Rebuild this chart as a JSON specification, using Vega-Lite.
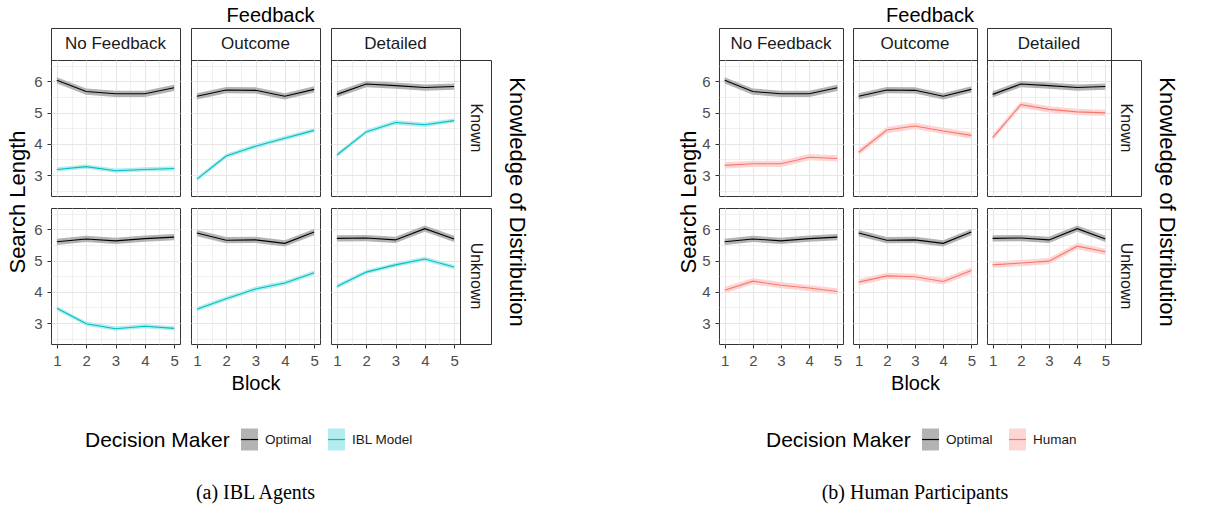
{
"$schema": "https://vega.github.io/schema/vega-lite/v6.json",
"background": "#ffffff",
"padding": {"left": 6, "top": 5, "right": 5, "bottom": 5},
"datasets": {"d": [
{"k":"K","f":"NF","dm":"Optimal","b":1,"m":6.03,"lo":5.93,"hi":6.13},
{"k":"K","f":"NF","dm":"Optimal","b":2,"m":5.67,"lo":5.57,"hi":5.77},
{"k":"K","f":"NF","dm":"Optimal","b":3,"m":5.6,"lo":5.5,"hi":5.7},
{"k":"K","f":"NF","dm":"Optimal","b":4,"m":5.6,"lo":5.5,"hi":5.7},
{"k":"K","f":"NF","dm":"Optimal","b":5,"m":5.79,"lo":5.69,"hi":5.89},
{"k":"K","f":"O","dm":"Optimal","b":1,"m":5.52,"lo":5.42,"hi":5.62},
{"k":"K","f":"O","dm":"Optimal","b":2,"m":5.72,"lo":5.62,"hi":5.82},
{"k":"K","f":"O","dm":"Optimal","b":3,"m":5.71,"lo":5.61,"hi":5.81},
{"k":"K","f":"O","dm":"Optimal","b":4,"m":5.52,"lo":5.42,"hi":5.62},
{"k":"K","f":"O","dm":"Optimal","b":5,"m":5.74,"lo":5.64,"hi":5.84},
{"k":"K","f":"D","dm":"Optimal","b":1,"m":5.58,"lo":5.48,"hi":5.68},
{"k":"K","f":"D","dm":"Optimal","b":2,"m":5.91,"lo":5.81,"hi":6.01},
{"k":"K","f":"D","dm":"Optimal","b":3,"m":5.86,"lo":5.76,"hi":5.96},
{"k":"K","f":"D","dm":"Optimal","b":4,"m":5.8,"lo":5.7,"hi":5.9},
{"k":"K","f":"D","dm":"Optimal","b":5,"m":5.83,"lo":5.73,"hi":5.93},
{"k":"U","f":"NF","dm":"Optimal","b":1,"m":5.6,"lo":5.5,"hi":5.7},
{"k":"U","f":"NF","dm":"Optimal","b":2,"m":5.69,"lo":5.59,"hi":5.79},
{"k":"U","f":"NF","dm":"Optimal","b":3,"m":5.63,"lo":5.53,"hi":5.73},
{"k":"U","f":"NF","dm":"Optimal","b":4,"m":5.7,"lo":5.6,"hi":5.8},
{"k":"U","f":"NF","dm":"Optimal","b":5,"m":5.75,"lo":5.65,"hi":5.85},
{"k":"U","f":"O","dm":"Optimal","b":1,"m":5.88,"lo":5.78,"hi":5.98},
{"k":"U","f":"O","dm":"Optimal","b":2,"m":5.65,"lo":5.55,"hi":5.75},
{"k":"U","f":"O","dm":"Optimal","b":3,"m":5.66,"lo":5.56,"hi":5.76},
{"k":"U","f":"O","dm":"Optimal","b":4,"m":5.55,"lo":5.45,"hi":5.65},
{"k":"U","f":"O","dm":"Optimal","b":5,"m":5.91,"lo":5.81,"hi":6.01},
{"k":"U","f":"D","dm":"Optimal","b":1,"m":5.71,"lo":5.61,"hi":5.81},
{"k":"U","f":"D","dm":"Optimal","b":2,"m":5.72,"lo":5.62,"hi":5.82},
{"k":"U","f":"D","dm":"Optimal","b":3,"m":5.66,"lo":5.56,"hi":5.76},
{"k":"U","f":"D","dm":"Optimal","b":4,"m":6.02,"lo":5.92,"hi":6.12},
{"k":"U","f":"D","dm":"Optimal","b":5,"m":5.69,"lo":5.59,"hi":5.79},
{"k":"K","f":"NF","dm":"IBL Model","b":1,"m":3.18,"lo":3.11,"hi":3.25},
{"k":"K","f":"NF","dm":"IBL Model","b":2,"m":3.27,"lo":3.2,"hi":3.34},
{"k":"K","f":"NF","dm":"IBL Model","b":3,"m":3.14,"lo":3.07,"hi":3.21},
{"k":"K","f":"NF","dm":"IBL Model","b":4,"m":3.18,"lo":3.11,"hi":3.25},
{"k":"K","f":"NF","dm":"IBL Model","b":5,"m":3.21,"lo":3.14,"hi":3.28},
{"k":"K","f":"O","dm":"IBL Model","b":1,"m":2.87,"lo":2.8,"hi":2.94},
{"k":"K","f":"O","dm":"IBL Model","b":2,"m":3.61,"lo":3.54,"hi":3.68},
{"k":"K","f":"O","dm":"IBL Model","b":3,"m":3.92,"lo":3.85,"hi":3.99},
{"k":"K","f":"O","dm":"IBL Model","b":4,"m":4.18,"lo":4.11,"hi":4.25},
{"k":"K","f":"O","dm":"IBL Model","b":5,"m":4.43,"lo":4.36,"hi":4.5},
{"k":"K","f":"D","dm":"IBL Model","b":1,"m":3.64,"lo":3.57,"hi":3.71},
{"k":"K","f":"D","dm":"IBL Model","b":2,"m":4.38,"lo":4.31,"hi":4.45},
{"k":"K","f":"D","dm":"IBL Model","b":3,"m":4.68,"lo":4.61,"hi":4.75},
{"k":"K","f":"D","dm":"IBL Model","b":4,"m":4.61,"lo":4.54,"hi":4.68},
{"k":"K","f":"D","dm":"IBL Model","b":5,"m":4.74,"lo":4.67,"hi":4.81},
{"k":"U","f":"NF","dm":"IBL Model","b":1,"m":3.47,"lo":3.4,"hi":3.54},
{"k":"U","f":"NF","dm":"IBL Model","b":2,"m":2.98,"lo":2.91,"hi":3.05},
{"k":"U","f":"NF","dm":"IBL Model","b":3,"m":2.82,"lo":2.75,"hi":2.89},
{"k":"U","f":"NF","dm":"IBL Model","b":4,"m":2.9,"lo":2.83,"hi":2.97},
{"k":"U","f":"NF","dm":"IBL Model","b":5,"m":2.83,"lo":2.76,"hi":2.9},
{"k":"U","f":"O","dm":"IBL Model","b":1,"m":3.44,"lo":3.37,"hi":3.51},
{"k":"U","f":"O","dm":"IBL Model","b":2,"m":3.78,"lo":3.71,"hi":3.85},
{"k":"U","f":"O","dm":"IBL Model","b":3,"m":4.09,"lo":4.02,"hi":4.16},
{"k":"U","f":"O","dm":"IBL Model","b":4,"m":4.28,"lo":4.21,"hi":4.35},
{"k":"U","f":"O","dm":"IBL Model","b":5,"m":4.61,"lo":4.54,"hi":4.68},
{"k":"U","f":"D","dm":"IBL Model","b":1,"m":4.17,"lo":4.1,"hi":4.24},
{"k":"U","f":"D","dm":"IBL Model","b":2,"m":4.63,"lo":4.56,"hi":4.7},
{"k":"U","f":"D","dm":"IBL Model","b":3,"m":4.86,"lo":4.79,"hi":4.93},
{"k":"U","f":"D","dm":"IBL Model","b":4,"m":5.05,"lo":4.98,"hi":5.12},
{"k":"U","f":"D","dm":"IBL Model","b":5,"m":4.79,"lo":4.72,"hi":4.86},
{"k":"K","f":"NF","dm":"Human","b":1,"m":3.31,"lo":3.21,"hi":3.41},
{"k":"K","f":"NF","dm":"Human","b":2,"m":3.36,"lo":3.26,"hi":3.46},
{"k":"K","f":"NF","dm":"Human","b":3,"m":3.36,"lo":3.26,"hi":3.46},
{"k":"K","f":"NF","dm":"Human","b":4,"m":3.57,"lo":3.47,"hi":3.67},
{"k":"K","f":"NF","dm":"Human","b":5,"m":3.53,"lo":3.43,"hi":3.63},
{"k":"K","f":"O","dm":"Human","b":1,"m":3.73,"lo":3.63,"hi":3.83},
{"k":"K","f":"O","dm":"Human","b":2,"m":4.44,"lo":4.34,"hi":4.54},
{"k":"K","f":"O","dm":"Human","b":3,"m":4.57,"lo":4.47,"hi":4.67},
{"k":"K","f":"O","dm":"Human","b":4,"m":4.41,"lo":4.31,"hi":4.51},
{"k":"K","f":"O","dm":"Human","b":5,"m":4.27,"lo":4.17,"hi":4.37},
{"k":"K","f":"D","dm":"Human","b":1,"m":4.2,"lo":4.1,"hi":4.3},
{"k":"K","f":"D","dm":"Human","b":2,"m":5.25,"lo":5.15,"hi":5.35},
{"k":"K","f":"D","dm":"Human","b":3,"m":5.1,"lo":5.0,"hi":5.2},
{"k":"K","f":"D","dm":"Human","b":4,"m":5.02,"lo":4.92,"hi":5.12},
{"k":"K","f":"D","dm":"Human","b":5,"m":4.99,"lo":4.89,"hi":5.09},
{"k":"U","f":"NF","dm":"Human","b":1,"m":4.05,"lo":3.95,"hi":4.15},
{"k":"U","f":"NF","dm":"Human","b":2,"m":4.34,"lo":4.24,"hi":4.44},
{"k":"U","f":"NF","dm":"Human","b":3,"m":4.21,"lo":4.11,"hi":4.31},
{"k":"U","f":"NF","dm":"Human","b":4,"m":4.12,"lo":4.02,"hi":4.22},
{"k":"U","f":"NF","dm":"Human","b":5,"m":4.01,"lo":3.91,"hi":4.11},
{"k":"U","f":"O","dm":"Human","b":1,"m":4.31,"lo":4.21,"hi":4.41},
{"k":"U","f":"O","dm":"Human","b":2,"m":4.51,"lo":4.41,"hi":4.61},
{"k":"U","f":"O","dm":"Human","b":3,"m":4.48,"lo":4.38,"hi":4.58},
{"k":"U","f":"O","dm":"Human","b":4,"m":4.33,"lo":4.23,"hi":4.43},
{"k":"U","f":"O","dm":"Human","b":5,"m":4.68,"lo":4.58,"hi":4.78},
{"k":"U","f":"D","dm":"Human","b":1,"m":4.86,"lo":4.76,"hi":4.96},
{"k":"U","f":"D","dm":"Human","b":2,"m":4.92,"lo":4.82,"hi":5.02},
{"k":"U","f":"D","dm":"Human","b":3,"m":4.98,"lo":4.88,"hi":5.08},
{"k":"U","f":"D","dm":"Human","b":4,"m":5.46,"lo":5.36,"hi":5.56},
{"k":"U","f":"D","dm":"Human","b":5,"m":5.28,"lo":5.18,"hi":5.38}
]},
"columns": 13,
"spacing": 0,
"bounds": "flush",
"align": "each",
"resolve": {"scale": {"fill": "independent", "stroke": "independent"}},
"concat": [
{"width":129,"height":32,"view":{"stroke":"#333333"},"data":{"values":[{"t":"No Feedback"}]},"mark":{"type":"text","fontSize":17,"color":"#1a1a1a"},"encoding":{"text":{"field":"t"}}},
{"width":11,"height":32,"data":{"values":[{}]},"mark":{"type":"text","text":""}},
{"width":129,"height":32,"view":{"stroke":"#333333"},"title":{"text":"Feedback","offset":2,"dx":15},"data":{"values":[{"t":"Outcome"}]},"mark":{"type":"text","fontSize":17,"color":"#1a1a1a"},"encoding":{"text":{"field":"t"}}},
{"width":11,"height":32,"data":{"values":[{}]},"mark":{"type":"text","text":""}},
{"width":129,"height":32,"view":{"stroke":"#333333"},"data":{"values":[{"t":"Detailed"}]},"mark":{"type":"text","fontSize":17,"color":"#1a1a1a"},"encoding":{"text":{"field":"t"}}},
{"width":31,"height":32,"data":{"values":[{}]},"mark":{"type":"text","text":""}},
{"width":228,"height":32,"data":{"values":[{}]},"mark":{"type":"text","text":""}},
{"width":124,"height":32,"view":{"stroke":"#333333"},"data":{"values":[{"t":"No Feedback"}]},"mark":{"type":"text","fontSize":17,"color":"#1a1a1a"},"encoding":{"text":{"field":"t"}}},
{"width":10,"height":32,"data":{"values":[{}]},"mark":{"type":"text","text":""}},
{"width":124,"height":32,"view":{"stroke":"#333333"},"title":{"text":"Feedback","offset":2,"dx":15},"data":{"values":[{"t":"Outcome"}]},"mark":{"type":"text","fontSize":17,"color":"#1a1a1a"},"encoding":{"text":{"field":"t"}}},
{"width":10,"height":32,"data":{"values":[{}]},"mark":{"type":"text","text":""}},
{"width":124,"height":32,"view":{"stroke":"#333333"},"data":{"values":[{"t":"Detailed"}]},"mark":{"type":"text","fontSize":17,"color":"#1a1a1a"},"encoding":{"text":{"field":"t"}}},
{"width":30,"height":32,"data":{"values":[{}]},"mark":{"type":"text","text":""}},

{"width":129,"height":136,"view":{"stroke":"#333333"},"data":{"name":"d"},"transform":[{"filter":"datum.k=='K' && datum.f=='NF' && datum.dm!='Human'"}],
"encoding":{"x":{"field":"b","type":"quantitative","scale":{"domain":[0.8,5.2],"nice":false,"zero":false},"axis":{"values":[1,1.5,2,2.5,3,3.5,4,4.5,5],"labels":false,"ticks":false,"title":null,"gridWidth":{"condition":{"test":"datum.value % 1 !== 0","value":0.6},"value":1.1}}}},
"layer":[{"mark":{"type":"area"},"encoding":{
"y":{"field":"lo","type":"quantitative","scale":{"domain":[2.33,6.68],"nice":false,"zero":false},"axis":{"values":[2.5,3,3.5,4,4.5,5,5.5,6,6.5],"format":".0f","labelExpr":"datum.value % 1 === 0 ? datum.label : ''","tickOpacity":{"condition":{"test":"datum.value % 1 !== 0","value":0},"value":1},"title":null,"gridWidth":{"condition":{"test":"datum.value % 1 !== 0","value":0.6},"value":1.1}}},
"y2":{"field":"hi"},
"fill":{"field":"dm","type":"nominal","scale":{"domain":["Optimal","IBL Model"],"range":["#b3b3b3","#b3eced"]},"legend":null}}},
{"mark":{"type":"line","strokeWidth":1.1},"encoding":{
"y":{"field":"m","type":"quantitative","scale":{"domain":[2.33,6.68],"nice":false,"zero":false},"axis":{"values":[2.5,3,3.5,4,4.5,5,5.5,6,6.5],"format":".0f","labelExpr":"datum.value % 1 === 0 ? datum.label : ''","tickOpacity":{"condition":{"test":"datum.value % 1 !== 0","value":0},"value":1},"title":null,"gridWidth":{"condition":{"test":"datum.value % 1 !== 0","value":0.6},"value":1.1}}},
"stroke":{"field":"dm","type":"nominal","scale":{"domain":["Optimal","IBL Model"],"range":["#000000","#00BFC4"]},"legend":null}}}]},
{"width":11,"height":1,"data":{"values":[{}]},"mark":{"type":"text","text":""}},
{"width":129,"height":136,"view":{"stroke":"#333333"},"data":{"name":"d"},"transform":[{"filter":"datum.k=='K' && datum.f=='O' && datum.dm!='Human'"}],
"encoding":{"x":{"field":"b","type":"quantitative","scale":{"domain":[0.8,5.2],"nice":false,"zero":false},"axis":{"values":[1,1.5,2,2.5,3,3.5,4,4.5,5],"labels":false,"ticks":false,"title":null,"gridWidth":{"condition":{"test":"datum.value % 1 !== 0","value":0.6},"value":1.1}}}},
"layer":[{"mark":{"type":"area"},"encoding":{
"y":{"field":"lo","type":"quantitative","scale":{"domain":[2.33,6.68],"nice":false,"zero":false},"axis":{"values":[2.5,3,3.5,4,4.5,5,5.5,6,6.5],"labels":false,"ticks":false,"title":null,"gridWidth":{"condition":{"test":"datum.value % 1 !== 0","value":0.6},"value":1.1}}},
"y2":{"field":"hi"},
"fill":{"field":"dm","type":"nominal","scale":{"domain":["Optimal","IBL Model"],"range":["#b3b3b3","#b3eced"]},"legend":null}}},
{"mark":{"type":"line","strokeWidth":1.1},"encoding":{
"y":{"field":"m","type":"quantitative","scale":{"domain":[2.33,6.68],"nice":false,"zero":false},"axis":{"values":[2.5,3,3.5,4,4.5,5,5.5,6,6.5],"labels":false,"ticks":false,"title":null,"gridWidth":{"condition":{"test":"datum.value % 1 !== 0","value":0.6},"value":1.1}}},
"stroke":{"field":"dm","type":"nominal","scale":{"domain":["Optimal","IBL Model"],"range":["#000000","#00BFC4"]},"legend":null}}}]},
{"width":11,"height":1,"data":{"values":[{}]},"mark":{"type":"text","text":""}},
{"width":129,"height":136,"view":{"stroke":"#333333"},"data":{"name":"d"},"transform":[{"filter":"datum.k=='K' && datum.f=='D' && datum.dm!='Human'"}],
"encoding":{"x":{"field":"b","type":"quantitative","scale":{"domain":[0.8,5.2],"nice":false,"zero":false},"axis":{"values":[1,1.5,2,2.5,3,3.5,4,4.5,5],"labels":false,"ticks":false,"title":null,"gridWidth":{"condition":{"test":"datum.value % 1 !== 0","value":0.6},"value":1.1}}}},
"layer":[{"mark":{"type":"area"},"encoding":{
"y":{"field":"lo","type":"quantitative","scale":{"domain":[2.33,6.68],"nice":false,"zero":false},"axis":{"values":[2.5,3,3.5,4,4.5,5,5.5,6,6.5],"labels":false,"ticks":false,"title":null,"gridWidth":{"condition":{"test":"datum.value % 1 !== 0","value":0.6},"value":1.1}}},
"y2":{"field":"hi"},
"fill":{"field":"dm","type":"nominal","scale":{"domain":["Optimal","IBL Model"],"range":["#b3b3b3","#b3eced"]},"legend":null}}},
{"mark":{"type":"line","strokeWidth":1.1},"encoding":{
"y":{"field":"m","type":"quantitative","scale":{"domain":[2.33,6.68],"nice":false,"zero":false},"axis":{"values":[2.5,3,3.5,4,4.5,5,5.5,6,6.5],"labels":false,"ticks":false,"title":null,"gridWidth":{"condition":{"test":"datum.value % 1 !== 0","value":0.6},"value":1.1}}},
"stroke":{"field":"dm","type":"nominal","scale":{"domain":["Optimal","IBL Model"],"range":["#000000","#00BFC4"]},"legend":null}}}]},
{"width":31,"height":136,"view":{"stroke":"#333333"},"data":{"values":[{"t":"Known"}]},"mark":{"type":"text","angle":90,"fontSize":16,"color":"#1a1a1a"},"encoding":{"text":{"field":"t"}}},
{"width":228,"height":1,"data":{"values":[{}]},"mark":{"type":"text","text":""}},
{"width":124,"height":136,"view":{"stroke":"#333333"},"data":{"name":"d"},"transform":[{"filter":"datum.k=='K' && datum.f=='NF' && datum.dm!='IBL Model'"}],
"encoding":{"x":{"field":"b","type":"quantitative","scale":{"domain":[0.8,5.2],"nice":false,"zero":false},"axis":{"values":[1,1.5,2,2.5,3,3.5,4,4.5,5],"labels":false,"ticks":false,"title":null,"gridWidth":{"condition":{"test":"datum.value % 1 !== 0","value":0.6},"value":1.1}}}},
"layer":[{"mark":{"type":"area"},"encoding":{
"y":{"field":"lo","type":"quantitative","scale":{"domain":[2.33,6.68],"nice":false,"zero":false},"axis":{"values":[2.5,3,3.5,4,4.5,5,5.5,6,6.5],"format":".0f","labelExpr":"datum.value % 1 === 0 ? datum.label : ''","tickOpacity":{"condition":{"test":"datum.value % 1 !== 0","value":0},"value":1},"title":null,"gridWidth":{"condition":{"test":"datum.value % 1 !== 0","value":0.6},"value":1.1}}},
"y2":{"field":"hi"},
"fill":{"field":"dm","type":"nominal","scale":{"domain":["Optimal","Human"],"range":["#b3b3b3","#fdd6d3"]},"legend":null}}},
{"mark":{"type":"line","strokeWidth":1.1},"encoding":{
"y":{"field":"m","type":"quantitative","scale":{"domain":[2.33,6.68],"nice":false,"zero":false},"axis":{"values":[2.5,3,3.5,4,4.5,5,5.5,6,6.5],"format":".0f","labelExpr":"datum.value % 1 === 0 ? datum.label : ''","tickOpacity":{"condition":{"test":"datum.value % 1 !== 0","value":0},"value":1},"title":null,"gridWidth":{"condition":{"test":"datum.value % 1 !== 0","value":0.6},"value":1.1}}},
"stroke":{"field":"dm","type":"nominal","scale":{"domain":["Optimal","Human"],"range":["#000000","#F8766D"]},"legend":null}}}]},
{"width":10,"height":1,"data":{"values":[{}]},"mark":{"type":"text","text":""}},
{"width":124,"height":136,"view":{"stroke":"#333333"},"data":{"name":"d"},"transform":[{"filter":"datum.k=='K' && datum.f=='O' && datum.dm!='IBL Model'"}],
"encoding":{"x":{"field":"b","type":"quantitative","scale":{"domain":[0.8,5.2],"nice":false,"zero":false},"axis":{"values":[1,1.5,2,2.5,3,3.5,4,4.5,5],"labels":false,"ticks":false,"title":null,"gridWidth":{"condition":{"test":"datum.value % 1 !== 0","value":0.6},"value":1.1}}}},
"layer":[{"mark":{"type":"area"},"encoding":{
"y":{"field":"lo","type":"quantitative","scale":{"domain":[2.33,6.68],"nice":false,"zero":false},"axis":{"values":[2.5,3,3.5,4,4.5,5,5.5,6,6.5],"labels":false,"ticks":false,"title":null,"gridWidth":{"condition":{"test":"datum.value % 1 !== 0","value":0.6},"value":1.1}}},
"y2":{"field":"hi"},
"fill":{"field":"dm","type":"nominal","scale":{"domain":["Optimal","Human"],"range":["#b3b3b3","#fdd6d3"]},"legend":null}}},
{"mark":{"type":"line","strokeWidth":1.1},"encoding":{
"y":{"field":"m","type":"quantitative","scale":{"domain":[2.33,6.68],"nice":false,"zero":false},"axis":{"values":[2.5,3,3.5,4,4.5,5,5.5,6,6.5],"labels":false,"ticks":false,"title":null,"gridWidth":{"condition":{"test":"datum.value % 1 !== 0","value":0.6},"value":1.1}}},
"stroke":{"field":"dm","type":"nominal","scale":{"domain":["Optimal","Human"],"range":["#000000","#F8766D"]},"legend":null}}}]},
{"width":10,"height":1,"data":{"values":[{}]},"mark":{"type":"text","text":""}},
{"width":124,"height":136,"view":{"stroke":"#333333"},"data":{"name":"d"},"transform":[{"filter":"datum.k=='K' && datum.f=='D' && datum.dm!='IBL Model'"}],
"encoding":{"x":{"field":"b","type":"quantitative","scale":{"domain":[0.8,5.2],"nice":false,"zero":false},"axis":{"values":[1,1.5,2,2.5,3,3.5,4,4.5,5],"labels":false,"ticks":false,"title":null,"gridWidth":{"condition":{"test":"datum.value % 1 !== 0","value":0.6},"value":1.1}}}},
"layer":[{"mark":{"type":"area"},"encoding":{
"y":{"field":"lo","type":"quantitative","scale":{"domain":[2.33,6.68],"nice":false,"zero":false},"axis":{"values":[2.5,3,3.5,4,4.5,5,5.5,6,6.5],"labels":false,"ticks":false,"title":null,"gridWidth":{"condition":{"test":"datum.value % 1 !== 0","value":0.6},"value":1.1}}},
"y2":{"field":"hi"},
"fill":{"field":"dm","type":"nominal","scale":{"domain":["Optimal","Human"],"range":["#b3b3b3","#fdd6d3"]},"legend":null}}},
{"mark":{"type":"line","strokeWidth":1.1},"encoding":{
"y":{"field":"m","type":"quantitative","scale":{"domain":[2.33,6.68],"nice":false,"zero":false},"axis":{"values":[2.5,3,3.5,4,4.5,5,5.5,6,6.5],"labels":false,"ticks":false,"title":null,"gridWidth":{"condition":{"test":"datum.value % 1 !== 0","value":0.6},"value":1.1}}},
"stroke":{"field":"dm","type":"nominal","scale":{"domain":["Optimal","Human"],"range":["#000000","#F8766D"]},"legend":null}}}]},
{"width":30,"height":136,"view":{"stroke":"#333333"},"data":{"values":[{"t":"Known"}]},"mark":{"type":"text","angle":90,"fontSize":16,"color":"#1a1a1a"},"encoding":{"text":{"field":"t"}}},

{"width":129,"height":12,"title":{"text":"Search Length","orient":"left","offset":21,"fontSize":22},"data":{"values":[{}]},"mark":{"type":"text","text":""}},
{"width":11,"height":12,"data":{"values":[{}]},"mark":{"type":"text","text":""}},
{"width":1,"height":12,"data":{"values":[{}]},"mark":{"type":"text","text":""}},
{"width":1,"height":12,"data":{"values":[{}]},"mark":{"type":"text","text":""}},
{"width":1,"height":12,"data":{"values":[{}]},"mark":{"type":"text","text":""}},
{"width":31,"height":12,"title":{"text":"Knowledge of Distribution","orient":"right","offset":14,"fontSize":22},"data":{"values":[{}]},"mark":{"type":"text","text":""}},
{"width":1,"height":12,"data":{"values":[{}]},"mark":{"type":"text","text":""}},
{"width":124,"height":12,"title":{"text":"Search Length","orient":"left","offset":18,"fontSize":22},"data":{"values":[{}]},"mark":{"type":"text","text":""}},
{"width":1,"height":12,"data":{"values":[{}]},"mark":{"type":"text","text":""}},
{"width":1,"height":12,"data":{"values":[{}]},"mark":{"type":"text","text":""}},
{"width":1,"height":12,"data":{"values":[{}]},"mark":{"type":"text","text":""}},
{"width":1,"height":12,"data":{"values":[{}]},"mark":{"type":"text","text":""}},
{"width":30,"height":12,"title":{"text":"Knowledge of Distribution","orient":"right","offset":14,"fontSize":22},"data":{"values":[{}]},"mark":{"type":"text","text":""}},

{"width":129,"height":136,"view":{"stroke":"#333333"},"data":{"name":"d"},"transform":[{"filter":"datum.k=='U' && datum.f=='NF' && datum.dm!='Human'"}],
"encoding":{"x":{"field":"b","type":"quantitative","scale":{"domain":[0.8,5.2],"nice":false,"zero":false},"axis":{"values":[1,1.5,2,2.5,3,3.5,4,4.5,5],"format":".0f","labelExpr":"datum.value % 1 === 0 ? datum.label : ''","tickOpacity":{"condition":{"test":"datum.value % 1 !== 0","value":0},"value":1},"title":null,"gridWidth":{"condition":{"test":"datum.value % 1 !== 0","value":0.6},"value":1.1}}}},
"layer":[{"mark":{"type":"area"},"encoding":{
"y":{"field":"lo","type":"quantitative","scale":{"domain":[2.33,6.68],"nice":false,"zero":false},"axis":{"values":[2.5,3,3.5,4,4.5,5,5.5,6,6.5],"format":".0f","labelExpr":"datum.value % 1 === 0 ? datum.label : ''","tickOpacity":{"condition":{"test":"datum.value % 1 !== 0","value":0},"value":1},"title":null,"gridWidth":{"condition":{"test":"datum.value % 1 !== 0","value":0.6},"value":1.1}}},
"y2":{"field":"hi"},
"fill":{"field":"dm","type":"nominal","scale":{"domain":["Optimal","IBL Model"],"range":["#b3b3b3","#b3eced"]},"legend":{"orient":"none","legendX":34,"legendY":222,"direction":"horizontal","title":"Decision Maker","titleOrient":"left","titleFontSize":21,"titleFontWeight":"normal","titleColor":"#000000","titlePadding":10,"labelFontSize":13.5,"labelColor":"#1a1a1a","labelOffset":6,"columnPadding":13,"symbolType":"M-1,0L1,0L1,-1.3L-1,-1.3L-1,1.3L1,1.3L1,0Z","symbolSize":289,"symbolDash":[17,1000],"symbolStrokeWidth":1.2,"symbolOpacity":1,"padding":0}}}},
{"mark":{"type":"line","strokeWidth":1.1},"encoding":{
"y":{"field":"m","type":"quantitative","scale":{"domain":[2.33,6.68],"nice":false,"zero":false},"axis":{"values":[2.5,3,3.5,4,4.5,5,5.5,6,6.5],"format":".0f","labelExpr":"datum.value % 1 === 0 ? datum.label : ''","tickOpacity":{"condition":{"test":"datum.value % 1 !== 0","value":0},"value":1},"title":null,"gridWidth":{"condition":{"test":"datum.value % 1 !== 0","value":0.6},"value":1.1}}},
"stroke":{"field":"dm","type":"nominal","scale":{"domain":["Optimal","IBL Model"],"range":["#000000","#00BFC4"]},"legend":{"orient":"none","legendX":34,"legendY":222,"direction":"horizontal","title":"Decision Maker","titleOrient":"left","titleFontSize":21,"titleFontWeight":"normal","titleColor":"#000000","titlePadding":10,"labelFontSize":13.5,"labelColor":"#1a1a1a","labelOffset":6,"columnPadding":13,"symbolType":"M-1,0L1,0L1,-1.3L-1,-1.3L-1,1.3L1,1.3L1,0Z","symbolSize":289,"symbolDash":[17,1000],"symbolStrokeWidth":1.2,"symbolOpacity":1,"padding":0}}}}]},
{"width":11,"height":1,"data":{"values":[{}]},"mark":{"type":"text","text":""}},
{"width":129,"height":136,"view":{"stroke":"#333333"},"title":{"text":"(a) IBL Agents","orient":"bottom","offset":90,"font":"Liberation Serif","fontSize":20},"data":{"name":"d"},"transform":[{"filter":"datum.k=='U' && datum.f=='O' && datum.dm!='Human'"}],
"encoding":{"x":{"field":"b","type":"quantitative","scale":{"domain":[0.8,5.2],"nice":false,"zero":false},"axis":{"values":[1,1.5,2,2.5,3,3.5,4,4.5,5],"format":".0f","labelExpr":"datum.value % 1 === 0 ? datum.label : ''","tickOpacity":{"condition":{"test":"datum.value % 1 !== 0","value":0},"value":1},"title":"Block","gridWidth":{"condition":{"test":"datum.value % 1 !== 0","value":0.6},"value":1.1}}}},
"layer":[{"mark":{"type":"area"},"encoding":{
"y":{"field":"lo","type":"quantitative","scale":{"domain":[2.33,6.68],"nice":false,"zero":false},"axis":{"values":[2.5,3,3.5,4,4.5,5,5.5,6,6.5],"labels":false,"ticks":false,"title":null,"gridWidth":{"condition":{"test":"datum.value % 1 !== 0","value":0.6},"value":1.1}}},
"y2":{"field":"hi"},
"fill":{"field":"dm","type":"nominal","scale":{"domain":["Optimal","IBL Model"],"range":["#b3b3b3","#b3eced"]},"legend":null}}},
{"mark":{"type":"line","strokeWidth":1.1},"encoding":{
"y":{"field":"m","type":"quantitative","scale":{"domain":[2.33,6.68],"nice":false,"zero":false},"axis":{"values":[2.5,3,3.5,4,4.5,5,5.5,6,6.5],"labels":false,"ticks":false,"title":null,"gridWidth":{"condition":{"test":"datum.value % 1 !== 0","value":0.6},"value":1.1}}},
"stroke":{"field":"dm","type":"nominal","scale":{"domain":["Optimal","IBL Model"],"range":["#000000","#00BFC4"]},"legend":null}}}]},
{"width":11,"height":1,"data":{"values":[{}]},"mark":{"type":"text","text":""}},
{"width":129,"height":136,"view":{"stroke":"#333333"},"data":{"name":"d"},"transform":[{"filter":"datum.k=='U' && datum.f=='D' && datum.dm!='Human'"}],
"encoding":{"x":{"field":"b","type":"quantitative","scale":{"domain":[0.8,5.2],"nice":false,"zero":false},"axis":{"values":[1,1.5,2,2.5,3,3.5,4,4.5,5],"format":".0f","labelExpr":"datum.value % 1 === 0 ? datum.label : ''","tickOpacity":{"condition":{"test":"datum.value % 1 !== 0","value":0},"value":1},"title":null,"gridWidth":{"condition":{"test":"datum.value % 1 !== 0","value":0.6},"value":1.1}}}},
"layer":[{"mark":{"type":"area"},"encoding":{
"y":{"field":"lo","type":"quantitative","scale":{"domain":[2.33,6.68],"nice":false,"zero":false},"axis":{"values":[2.5,3,3.5,4,4.5,5,5.5,6,6.5],"labels":false,"ticks":false,"title":null,"gridWidth":{"condition":{"test":"datum.value % 1 !== 0","value":0.6},"value":1.1}}},
"y2":{"field":"hi"},
"fill":{"field":"dm","type":"nominal","scale":{"domain":["Optimal","IBL Model"],"range":["#b3b3b3","#b3eced"]},"legend":null}}},
{"mark":{"type":"line","strokeWidth":1.1},"encoding":{
"y":{"field":"m","type":"quantitative","scale":{"domain":[2.33,6.68],"nice":false,"zero":false},"axis":{"values":[2.5,3,3.5,4,4.5,5,5.5,6,6.5],"labels":false,"ticks":false,"title":null,"gridWidth":{"condition":{"test":"datum.value % 1 !== 0","value":0.6},"value":1.1}}},
"stroke":{"field":"dm","type":"nominal","scale":{"domain":["Optimal","IBL Model"],"range":["#000000","#00BFC4"]},"legend":null}}}]},
{"width":31,"height":136,"view":{"stroke":"#333333"},"data":{"values":[{"t":"Unknown"}]},"mark":{"type":"text","angle":90,"fontSize":16,"color":"#1a1a1a"},"encoding":{"text":{"field":"t"}}},
{"width":228,"height":1,"data":{"values":[{}]},"mark":{"type":"text","text":""}},
{"width":124,"height":136,"view":{"stroke":"#333333"},"data":{"name":"d"},"transform":[{"filter":"datum.k=='U' && datum.f=='NF' && datum.dm!='IBL Model'"}],
"encoding":{"x":{"field":"b","type":"quantitative","scale":{"domain":[0.8,5.2],"nice":false,"zero":false},"axis":{"values":[1,1.5,2,2.5,3,3.5,4,4.5,5],"format":".0f","labelExpr":"datum.value % 1 === 0 ? datum.label : ''","tickOpacity":{"condition":{"test":"datum.value % 1 !== 0","value":0},"value":1},"title":null,"gridWidth":{"condition":{"test":"datum.value % 1 !== 0","value":0.6},"value":1.1}}}},
"layer":[{"mark":{"type":"area"},"encoding":{
"y":{"field":"lo","type":"quantitative","scale":{"domain":[2.33,6.68],"nice":false,"zero":false},"axis":{"values":[2.5,3,3.5,4,4.5,5,5.5,6,6.5],"format":".0f","labelExpr":"datum.value % 1 === 0 ? datum.label : ''","tickOpacity":{"condition":{"test":"datum.value % 1 !== 0","value":0},"value":1},"title":null,"gridWidth":{"condition":{"test":"datum.value % 1 !== 0","value":0.6},"value":1.1}}},
"y2":{"field":"hi"},
"fill":{"field":"dm","type":"nominal","scale":{"domain":["Optimal","Human"],"range":["#b3b3b3","#fdd6d3"]},"legend":{"orient":"none","legendX":47,"legendY":222,"direction":"horizontal","title":"Decision Maker","titleOrient":"left","titleFontSize":21,"titleFontWeight":"normal","titleColor":"#000000","titlePadding":10,"labelFontSize":13.5,"labelColor":"#1a1a1a","labelOffset":6,"columnPadding":13,"symbolType":"M-1,0L1,0L1,-1.3L-1,-1.3L-1,1.3L1,1.3L1,0Z","symbolSize":289,"symbolDash":[17,1000],"symbolStrokeWidth":1.2,"symbolOpacity":1,"padding":0}}}},
{"mark":{"type":"line","strokeWidth":1.1},"encoding":{
"y":{"field":"m","type":"quantitative","scale":{"domain":[2.33,6.68],"nice":false,"zero":false},"axis":{"values":[2.5,3,3.5,4,4.5,5,5.5,6,6.5],"format":".0f","labelExpr":"datum.value % 1 === 0 ? datum.label : ''","tickOpacity":{"condition":{"test":"datum.value % 1 !== 0","value":0},"value":1},"title":null,"gridWidth":{"condition":{"test":"datum.value % 1 !== 0","value":0.6},"value":1.1}}},
"stroke":{"field":"dm","type":"nominal","scale":{"domain":["Optimal","Human"],"range":["#000000","#F8766D"]},"legend":{"orient":"none","legendX":47,"legendY":222,"direction":"horizontal","title":"Decision Maker","titleOrient":"left","titleFontSize":21,"titleFontWeight":"normal","titleColor":"#000000","titlePadding":10,"labelFontSize":13.5,"labelColor":"#1a1a1a","labelOffset":6,"columnPadding":13,"symbolType":"M-1,0L1,0L1,-1.3L-1,-1.3L-1,1.3L1,1.3L1,0Z","symbolSize":289,"symbolDash":[17,1000],"symbolStrokeWidth":1.2,"symbolOpacity":1,"padding":0}}}}]},
{"width":10,"height":1,"data":{"values":[{}]},"mark":{"type":"text","text":""}},
{"width":124,"height":136,"view":{"stroke":"#333333"},"title":{"text":"(b) Human Participants","orient":"bottom","offset":90,"font":"Liberation Serif","fontSize":20},"data":{"name":"d"},"transform":[{"filter":"datum.k=='U' && datum.f=='O' && datum.dm!='IBL Model'"}],
"encoding":{"x":{"field":"b","type":"quantitative","scale":{"domain":[0.8,5.2],"nice":false,"zero":false},"axis":{"values":[1,1.5,2,2.5,3,3.5,4,4.5,5],"format":".0f","labelExpr":"datum.value % 1 === 0 ? datum.label : ''","tickOpacity":{"condition":{"test":"datum.value % 1 !== 0","value":0},"value":1},"title":"Block","gridWidth":{"condition":{"test":"datum.value % 1 !== 0","value":0.6},"value":1.1}}}},
"layer":[{"mark":{"type":"area"},"encoding":{
"y":{"field":"lo","type":"quantitative","scale":{"domain":[2.33,6.68],"nice":false,"zero":false},"axis":{"values":[2.5,3,3.5,4,4.5,5,5.5,6,6.5],"labels":false,"ticks":false,"title":null,"gridWidth":{"condition":{"test":"datum.value % 1 !== 0","value":0.6},"value":1.1}}},
"y2":{"field":"hi"},
"fill":{"field":"dm","type":"nominal","scale":{"domain":["Optimal","Human"],"range":["#b3b3b3","#fdd6d3"]},"legend":null}}},
{"mark":{"type":"line","strokeWidth":1.1},"encoding":{
"y":{"field":"m","type":"quantitative","scale":{"domain":[2.33,6.68],"nice":false,"zero":false},"axis":{"values":[2.5,3,3.5,4,4.5,5,5.5,6,6.5],"labels":false,"ticks":false,"title":null,"gridWidth":{"condition":{"test":"datum.value % 1 !== 0","value":0.6},"value":1.1}}},
"stroke":{"field":"dm","type":"nominal","scale":{"domain":["Optimal","Human"],"range":["#000000","#F8766D"]},"legend":null}}}]},
{"width":10,"height":1,"data":{"values":[{}]},"mark":{"type":"text","text":""}},
{"width":124,"height":136,"view":{"stroke":"#333333"},"data":{"name":"d"},"transform":[{"filter":"datum.k=='U' && datum.f=='D' && datum.dm!='IBL Model'"}],
"encoding":{"x":{"field":"b","type":"quantitative","scale":{"domain":[0.8,5.2],"nice":false,"zero":false},"axis":{"values":[1,1.5,2,2.5,3,3.5,4,4.5,5],"format":".0f","labelExpr":"datum.value % 1 === 0 ? datum.label : ''","tickOpacity":{"condition":{"test":"datum.value % 1 !== 0","value":0},"value":1},"title":null,"gridWidth":{"condition":{"test":"datum.value % 1 !== 0","value":0.6},"value":1.1}}}},
"layer":[{"mark":{"type":"area"},"encoding":{
"y":{"field":"lo","type":"quantitative","scale":{"domain":[2.33,6.68],"nice":false,"zero":false},"axis":{"values":[2.5,3,3.5,4,4.5,5,5.5,6,6.5],"labels":false,"ticks":false,"title":null,"gridWidth":{"condition":{"test":"datum.value % 1 !== 0","value":0.6},"value":1.1}}},
"y2":{"field":"hi"},
"fill":{"field":"dm","type":"nominal","scale":{"domain":["Optimal","Human"],"range":["#b3b3b3","#fdd6d3"]},"legend":null}}},
{"mark":{"type":"line","strokeWidth":1.1},"encoding":{
"y":{"field":"m","type":"quantitative","scale":{"domain":[2.33,6.68],"nice":false,"zero":false},"axis":{"values":[2.5,3,3.5,4,4.5,5,5.5,6,6.5],"labels":false,"ticks":false,"title":null,"gridWidth":{"condition":{"test":"datum.value % 1 !== 0","value":0.6},"value":1.1}}},
"stroke":{"field":"dm","type":"nominal","scale":{"domain":["Optimal","Human"],"range":["#000000","#F8766D"]},"legend":null}}}]},
{"width":30,"height":136,"view":{"stroke":"#333333"},"data":{"values":[{"t":"Unknown"}]},"mark":{"type":"text","angle":90,"fontSize":16,"color":"#1a1a1a"},"encoding":{"text":{"field":"t"}}}
],
"config": {
"font": "Liberation Sans",
"view": {"stroke": null},
"axis": {"domain": false, "grid": true, "gridColor": "#e6e6e6", "labelFontSize": 15, "labelColor": "#4d4d4d", "tickColor": "#333333", "tickSize": 4, "tickWidth": 1, "labelPadding": 5, "labelFlush": false, "labelOverlap": false, "titleFontSize": 20, "titleFontWeight": "normal", "titleColor": "#000000", "titlePadding": 5},
"title": {"fontWeight": "normal", "color": "#000000", "fontSize": 20, "anchor": "middle"}
}
}
